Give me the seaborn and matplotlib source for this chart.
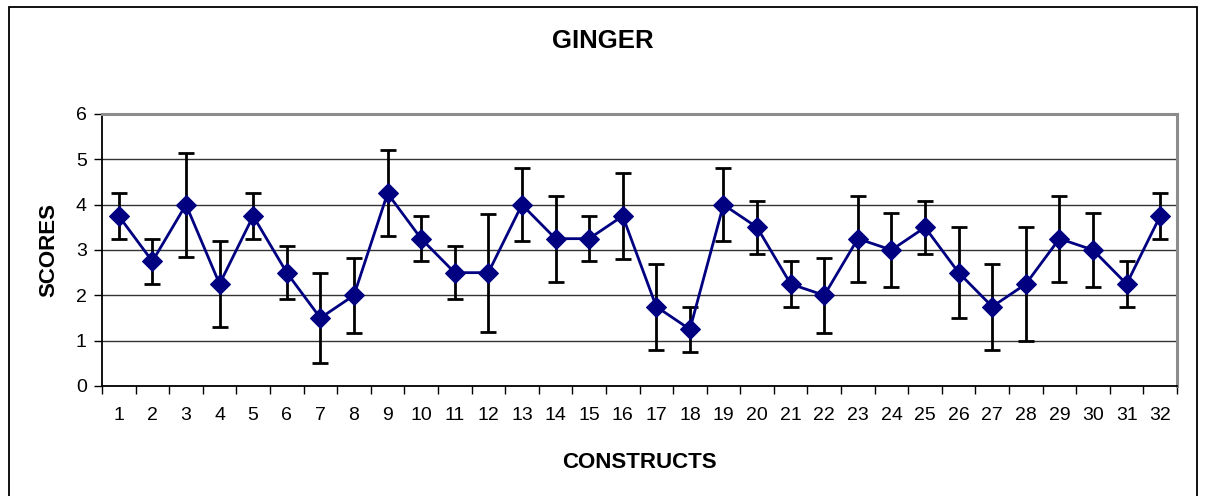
import matplotlib
matplotlib.use("Agg")
import matplotlib.pyplot as plt
import matplotlib.patches as mpatches
from matplotlib.ticker import MultipleLocator, FixedLocator
import numpy as np
import pandas as pd
import seaborn as sns

# Mean scores per construct with their +/- spreads
constructs = list(range(1, 33))
scores = [3.75, 2.75, 4.0, 2.25, 3.75, 2.5, 1.5, 2.0, 4.25, 3.25,
          2.5, 2.5, 4.0, 3.25, 3.25, 3.75, 1.75, 1.25, 4.0, 3.5,
          2.25, 2.0, 3.25, 3.0, 3.5, 2.5, 1.75, 2.25, 3.25, 3.0,
          2.25, 3.75]
errors = [0.5, 0.5, 1.15, 0.95, 0.5, 0.58, 1.0, 0.82, 0.95, 0.5,
          0.58, 1.3, 0.8, 0.95, 0.5, 0.95, 0.95, 0.5, 0.8, 0.58,
          0.5, 0.82, 0.95, 0.82, 0.58, 1.0, 0.95, 1.25, 0.95, 0.82,
          0.5, 0.5]

df = pd.DataFrame({"construct": constructs, "score": scores, "err": errors})

sns.set_style("white")
plt.rcParams["font.family"] = ["Liberation Sans", "DejaVu Sans"]
plt.rcParams["text.color"] = "black"
plt.rcParams["axes.labelcolor"] = "black"
plt.rcParams["xtick.color"] = "black"
plt.rcParams["ytick.color"] = "black"

W, H = 1205, 496
fig = plt.figure(figsize=(W / 100, H / 100), dpi=100)
ax = fig.add_axes([102 / W, 1 - 386 / H, (1177 - 102) / W, (386 - 114) / H])

# Outer chart frame (runs off the bottom edge)
fig.patches.append(mpatches.Rectangle((9 / W, -10 / H), (1197 - 9) / W, (489 + 10) / H,
                                      transform=fig.transFigure, fill=False,
                                      edgecolor="black", linewidth=1.3))

# Horizontal gridlines
for yv in range(0, 6):
    ax.axhline(yv, color="#333333", linewidth=1.0, zorder=1)

ax.errorbar(df["construct"], df["score"], yerr=df["err"], fmt="none",
            ecolor="black", elinewidth=2.0, capsize=5.5, capthick=2.0, zorder=3)
sns.lineplot(data=df, x="construct", y="score", ax=ax, color="#000080",
             linewidth=2.0, marker="D", markersize=10, markeredgecolor="#000080",
             zorder=4)

ax.set_xlim(0.5, 32.5)
ax.set_ylim(0, 6)
ax.yaxis.set_major_locator(MultipleLocator(1))
ax.xaxis.set_major_locator(FixedLocator(constructs))
ax.set_xticklabels([str(c) for c in constructs])
ax.xaxis.set_minor_locator(FixedLocator(np.arange(0.5, 33, 1)))
ax.tick_params(axis="x", which="major", length=0, pad=15, labelsize=14)
ax.tick_params(axis="x", which="minor", length=6, width=1, direction="out",
               color="black", bottom=True)
ax.tick_params(axis="y", which="major", length=6, width=1, direction="out",
               color="black", left=True, labelsize=14, pad=5)

for side in ["left", "bottom"]:
    ax.spines[side].set_color("black")
    ax.spines[side].set_linewidth(1.3)
for side in ["top", "right"]:
    ax.spines[side].set_color("#8c8c8c")
    ax.spines[side].set_linewidth(2.2)

ax.set_xlabel("CONSTRUCTS", fontsize=16, fontweight="bold", labelpad=20)
ax.set_ylabel("SCORES", fontsize=16, fontweight="bold", labelpad=12)
fig.text(603 / W, 1 - 41 / H, "GINGER", ha="center", va="center",
         fontsize=18.5, fontweight="bold")

fig.savefig("out.png", dpi=100)
